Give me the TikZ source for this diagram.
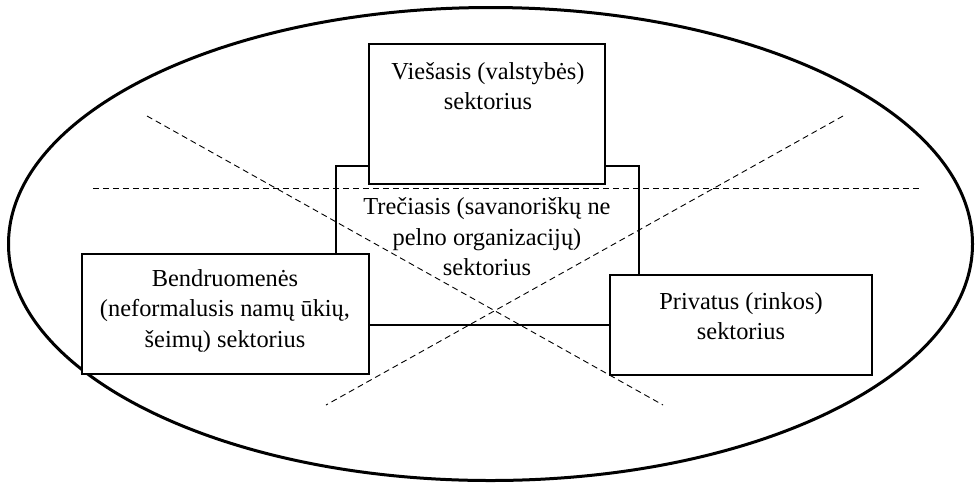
\documentclass[tikz,border=0pt]{standalone}
\usepackage{fontspec}
\setmainfont{Liberation Serif}
\usetikzlibrary{shapes.geometric}
\begin{document}
\begin{tikzpicture}[x=0.5pt,y=-0.5pt,
  sector/.style={draw=black,line width=1.1pt,fill=white,rectangle,inner sep=0pt},
  label/.style={align=center,inner sep=0pt,font=\fontsize{12.2}{15.2}\selectfont},
  divider/.style={draw=black,line width=0.45pt,dash pattern=on 3pt off 2pt}]
\useasboundingbox (0,0) rectangle (975,484);
% outer ellipse
\node[draw=black,line width=1.5pt,ellipse,inner sep=0pt,minimum width=482pt,minimum height=236.5pt] (world) at (490.5,244) {};
% boxes
\node[sector,minimum width=151.5pt,minimum height=79.5pt] (third) at (487.5,245.5) {};
\node[sector,minimum width=118pt,minimum height=70pt] (public) at (487,114) {};
\node[sector,minimum width=143.5pt,minimum height=60pt] (community) at (225.5,314) {};
\node[sector,minimum width=131pt,minimum height=50pt] (private) at (741,325) {};
% dashed dividers
\coordinate (hA) at (93,188);
\coordinate (hB) at (922,188);
\coordinate (dA) at (147,116);
\coordinate (dB) at (663,405);
\coordinate (dC) at (843,116);
\coordinate (dD) at (326,405);
\draw[divider] (hA) -- (hB);
\draw[divider] (dA) -- (dB);
\draw[divider] (dC) -- (dD);
% texts
\node[label] (publicT) at (488,86) {Viešasis (valstybės)\\sektorius};
\node[label] (thirdT) at (487,237) {Trečiasis (savanoriškų ne\\pelno organizacijų)\\sektorius};
\node[label] (communityT) at (225,311) {Bendruomenės\\(neformalusis namų ūkių,\\šeimų) sektorius};
\node[label] (privateT) at (741,316) {Privatus (rinkos)\\sektorius};
\end{tikzpicture}
\end{document}
